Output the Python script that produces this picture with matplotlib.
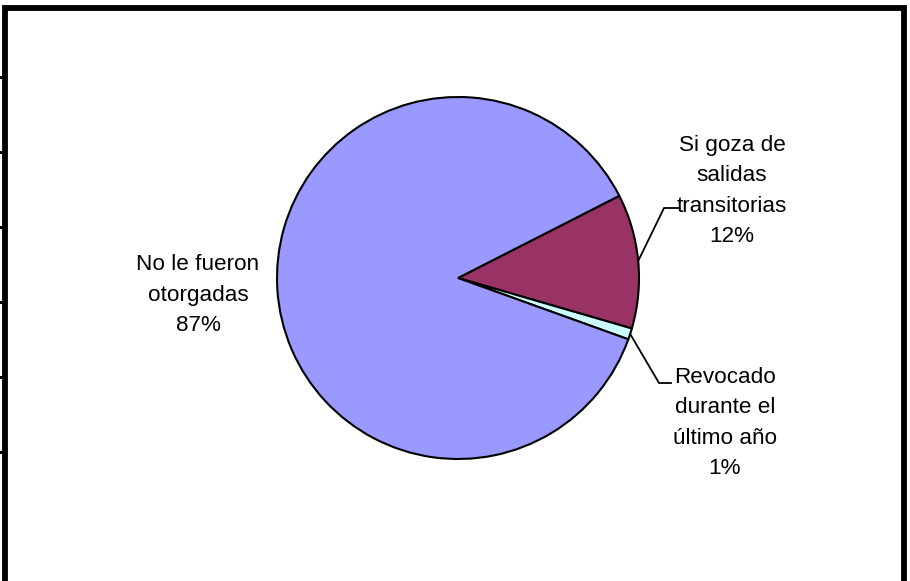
import numpy as np
import matplotlib
matplotlib.use("Agg")
import matplotlib.pyplot as plt

# slice order clockwise starting from the maroon slice
labels = ["Si goza de\nsalidas\ntransitorias", "Revocado\ndurante el\núltimo año", "No le fueron\notorgadas"]
values = [12, 1, 87]
colors = ["#993366", "#CCFFFF", "#9999FF"]

W, H = 910, 581
plt.rcParams['font.family'] = ['Liberation Sans', 'DejaVu Sans']

fig = plt.figure(figsize=(W / 100, H / 100), dpi=100)
ax = fig.add_axes([0, 0, 1, 1])

cx, cy, r = 458, H - 278, 181
start = 27
wedges, _ = ax.pie(values, colors=colors, startangle=start, counterclock=False,
                   center=(cx, cy), radius=r,
                   wedgeprops=dict(edgecolor="black", linewidth=1.5))
ax.set_xlim(0, W)
ax.set_ylim(0, H)
ax.set_aspect("equal")
ax.axis("off")

# labels
fs, ls = 16.2, 1.6
ax.text(198, H - 295, f"{labels[2]}\n{values[2]}%", ha="center", va="center",
        fontsize=fs, linespacing=ls)
ax.text(732, H - 191, f"{labels[0]}\n{values[0]}%", ha="center", va="center",
        fontsize=fs, linespacing=ls)
ax.text(725, H - 423, f"{labels[1]}\n{values[1]}%", ha="center", va="center",
        fontsize=fs, linespacing=ls)

# leader lines from wedge mid-angle to labels
def leader(w, elbow, end):
    mid = np.deg2rad((w.theta1 + w.theta2) / 2)
    p = (cx + r * np.cos(mid), cy + r * np.sin(mid))
    ax.plot([p[0], elbow[0], end[0]], [p[1], elbow[1], end[1]], color="black", lw=1.3)

leader(wedges[0], (664, H - 208), (678, H - 208))
leader(wedges[1], (659, H - 383), (671, H - 383))

# outer frame (cut off at the bottom)
ax.plot([4.5, 4.5, 903.7, 903.7], [-5, H - 7.5, H - 7.5, -5], color="black", lw=4.2,
        solid_joinstyle="miter", clip_on=False)
for ty in [77, 152, 227, 302, 377, 452]:
    ax.plot([0, 5], [H - ty, H - ty], color="black", lw=2.2)

fig.savefig("out.png", dpi=100, facecolor="white")
